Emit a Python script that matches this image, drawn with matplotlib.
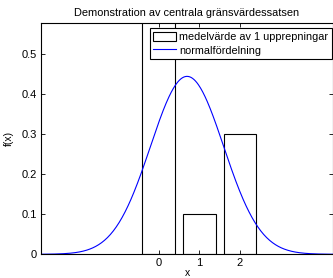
import numpy as np
import matplotlib
matplotlib.use("Agg")
import matplotlib.pyplot as plt

plt.rcParams['font.family'] = ['Liberation Sans', 'DejaVu Sans']

# data
values = [0, 1, 2]
probs = [0.6, 0.1, 0.3]
mu = 0.7
sigma = 0.9

xs = np.linspace(mu - 4 * sigma, mu + 4 * sigma, 400)
pdf = np.exp(-(xs - mu) ** 2 / (2 * sigma ** 2)) / (sigma * np.sqrt(2 * np.pi))

fig = plt.figure(figsize=(3.33, 2.78), dpi=100)
ax = fig.add_axes([0.1222, 0.0853, 0.879, 0.832])

bars = ax.bar(values, probs, width=0.8, facecolor='none', edgecolor='black', linewidth=0.8)
line, = ax.plot(xs, pdf, color='blue', linewidth=0.8)

ax.set_xlim(mu - 4 * sigma, mu + 4 * sigma)
ax.set_ylim(0, 1.3 * pdf.max())
ax.set_xticks(values)
ax.set_yticks([0, 0.1, 0.2, 0.3, 0.4, 0.5])
ax.set_yticklabels(['0', '0.1', '0.2', '0.3', '0.4', '0.5'])
ax.tick_params(direction='in', top=True, right=True, labelsize=8, length=2.8, width=0.6, pad=3)
for s in ax.spines.values():
    s.set_linewidth(0.8)

ax.set_xlabel('x', fontsize=7.5, labelpad=0)
ax.set_ylabel('f(x)', fontsize=7.5, labelpad=5)
ax.set_title('Demonstration av centrala gränsvärdessatsen', fontsize=7.9, pad=5)

patch = plt.Rectangle((0, 0), 1, 1, facecolor='white', edgecolor='black', linewidth=0.8)
leg = ax.legend([patch, line], ['medelvärde av 1 upprepningar', 'normalfördelning'],
                loc='upper right', bbox_to_anchor=(0.9939, 0.978), borderaxespad=0,
                fontsize=7.8, fancybox=False, framealpha=1, edgecolor='black',
                handlelength=2.1, handleheight=0.9, handletextpad=0.25,
                borderpad=0.35, labelspacing=0.3)
leg.get_frame().set_linewidth(0.8)

fig.savefig('out.png', dpi=100)
